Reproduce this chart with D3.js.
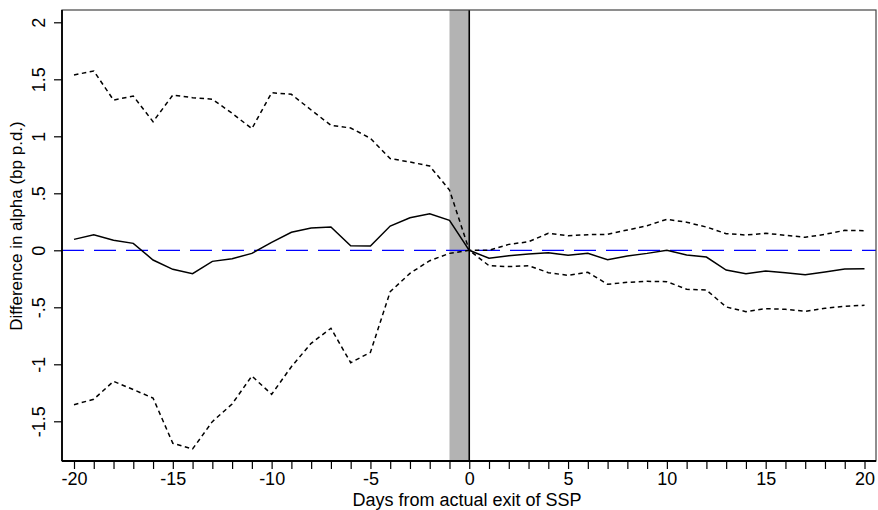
<!DOCTYPE html>
<html>
<head>
<meta charset="utf-8">
<script src="https://cdn.jsdelivr.net/npm/d3@7"></script>
<style>
  body { margin: 0; background: #fff; }
  text { font-family: "Liberation Sans", Arial, sans-serif; }
</style>
</head>
<body>
<div id="chart"></div>
<script>
// days relative to exit
const days = d3.range(-20, 21)

// point estimate
const estimate = [
  0.096, 0.137, 0.088, 0.061, -0.085, -0.167, -0.205, -0.097, -0.074, -0.027,
  0.07, 0.158, 0.196, 0.204, 0.04, 0.038, 0.213, 0.286, 0.321, 0.263,
  0,
  -0.07, -0.047, -0.032, -0.021, -0.044, -0.027, -0.082, -0.05, -0.027, 0,
  -0.041, -0.059, -0.173, -0.205, -0.182, -0.196, -0.214, -0.19, -0.164, -0.161
]

// upper confidence band
const upper = [
  1.538, 1.573, 1.318, 1.353, 1.128, 1.362, 1.339, 1.325, 1.202, 1.067,
  1.382, 1.368, 1.231, 1.096, 1.073, 0.982, 0.804, 0.775, 0.739, 0.529,
  0,
  0.0, 0.052, 0.075, 0.149, 0.128, 0.137, 0.14, 0.178, 0.216, 0.272,
  0.246, 0.204, 0.146, 0.134, 0.149, 0.132, 0.114, 0.14, 0.175, 0.172
]

// lower confidence band
const lower = [
  -1.354, -1.307, -1.149, -1.222, -1.296, -1.693, -1.743, -1.503, -1.348, -1.103,
  -1.263, -1.021, -0.816, -0.684, -0.986, -0.895, -0.363, -0.202, -0.091, -0.027,
  0,
  -0.135, -0.143, -0.135, -0.196, -0.22, -0.193, -0.298, -0.281, -0.272, -0.275,
  -0.342, -0.348, -0.497, -0.538, -0.512, -0.518, -0.535, -0.509, -0.491, -0.482
]

const yTicks = [-1.5, -1, -0.5, 0, 0.5, 1, 1.5, 2]
const yTickLabels = ['-1.5', '-1', '-.5', '0', '.5', '1', '1.5', '2']
const xTicks = [-20, -15, -10, -5, 0, 5, 10, 15, 20]
const shadeBand = [-1, 0]

const width = 878,
  height = 510
const margin = { top: 10, right: 2, bottom: 49, left: 62 }

const svg = d3
  .select('#chart')
  .append('svg')
  .attr('width', width)
  .attr('height', height)

const xScale = d3.scaleLinear().domain([-20, 20]).range([74, 864.5])
const yScale = d3.scaleLinear().domain([0, 2]).range([250.3, 22.3])

const plotLeft = margin.left,
  plotRight = width - margin.right,
  plotTop = margin.top,
  plotBottom = height - margin.bottom

// shaded exit window
svg
  .append('rect')
  .attr('x', xScale(shadeBand[0]))
  .attr('y', plotTop)
  .attr('width', xScale(shadeBand[1]) - xScale(shadeBand[0]))
  .attr('height', plotBottom - plotTop)
  .attr('fill', '#b3b3b3')

// vertical line at day 0
svg
  .append('line')
  .attr('x1', xScale(0))
  .attr('x2', xScale(0))
  .attr('y1', plotTop)
  .attr('y2', plotBottom)
  .attr('stroke', '#000')
  .attr('stroke-width', 1.6)

// zero reference line
svg
  .append('line')
  .attr('x1', plotLeft)
  .attr('x2', plotRight)
  .attr('y1', yScale(0))
  .attr('y2', yScale(0))
  .attr('stroke', '#0000ff')
  .attr('stroke-width', 1.2)
  .attr('stroke-dasharray', '22,10')

const line = d3
  .line()
  .x((d, i) => xScale(days[i]))
  .y(d => yScale(d))

// confidence bands
;[upper, lower].forEach(series => {
  svg
    .append('path')
    .datum(series)
    .attr('d', line)
    .attr('fill', 'none')
    .attr('stroke', '#000')
    .attr('stroke-width', 1.5)
    .attr('stroke-dasharray', '4.5,3.5')
})

// estimate
svg
  .append('path')
  .datum(estimate)
  .attr('d', line)
  .attr('fill', 'none')
  .attr('stroke', '#000')
  .attr('stroke-width', 1.5)

// frame
svg
  .append('rect')
  .attr('x', plotLeft)
  .attr('y', plotTop)
  .attr('width', plotRight - plotLeft)
  .attr('height', plotBottom - plotTop)
  .attr('fill', 'none')
  .attr('stroke', '#444')
  .attr('stroke-width', 1.2)

// x axis
const xAxis = d3
  .axisBottom(xScale)
  .tickValues(days)
  .tickSize(8)
  .tickFormat(d => (xTicks.includes(d) ? d : ''))

const gx = svg
  .append('g')
  .attr('transform', `translate(0, ${plotBottom})`)
  .call(xAxis)
gx.select('.domain').remove()
gx.selectAll('.tick line').attr('stroke', '#000').attr('stroke-width', 1.2)
gx.selectAll('.tick text')
  .attr('font-size', 18)
  .attr('fill', '#000')
  .attr('y', 11)
  .attr('dy', '0.71em')
  .attr('font-family', '"Liberation Sans", Arial, sans-serif')
svg
  .append('line')
  .attr('x1', plotLeft)
  .attr('x2', plotRight)
  .attr('y1', plotBottom)
  .attr('y2', plotBottom)
  .attr('stroke', '#000')
  .attr('stroke-width', 1.8)

// y axis
const yAxis = d3
  .axisLeft(yScale)
  .tickValues(yTicks)
  .tickSize(8)
  .tickFormat((d, i) => yTickLabels[i])

const gy = svg
  .append('g')
  .attr('transform', `translate(${plotLeft}, 0)`)
  .call(yAxis)
gy.select('.domain').remove()
gy.selectAll('.tick line').attr('stroke', '#000').attr('stroke-width', 1.2)
gy.selectAll('.tick text')
  .attr('font-size', 18)
  .attr('fill', '#000')
  .attr('x', 0)
  .attr('dy', 0)
  .attr('text-anchor', 'middle')
  .attr('transform', 'translate(-17, 0) rotate(-90)')
  .attr('font-family', '"Liberation Sans", Arial, sans-serif')
svg
  .append('line')
  .attr('x1', plotLeft)
  .attr('x2', plotLeft)
  .attr('y1', plotTop)
  .attr('y2', plotBottom)
  .attr('stroke', '#000')
  .attr('stroke-width', 1.8)

// titles
svg
  .append('text')
  .attr('x', (plotLeft + plotRight) / 2 - 2)
  .attr('y', 506)
  .attr('text-anchor', 'middle')
  .attr('font-size', 18)
  .text('Days from actual exit of SSP')

svg
  .append('text')
  .attr('transform', 'translate(22, 226) rotate(-90)')
  .attr('text-anchor', 'middle')
  .attr('font-size', 17)
  .text('Difference in alpha (bp p.d.)')
</script>
</body>
</html>
